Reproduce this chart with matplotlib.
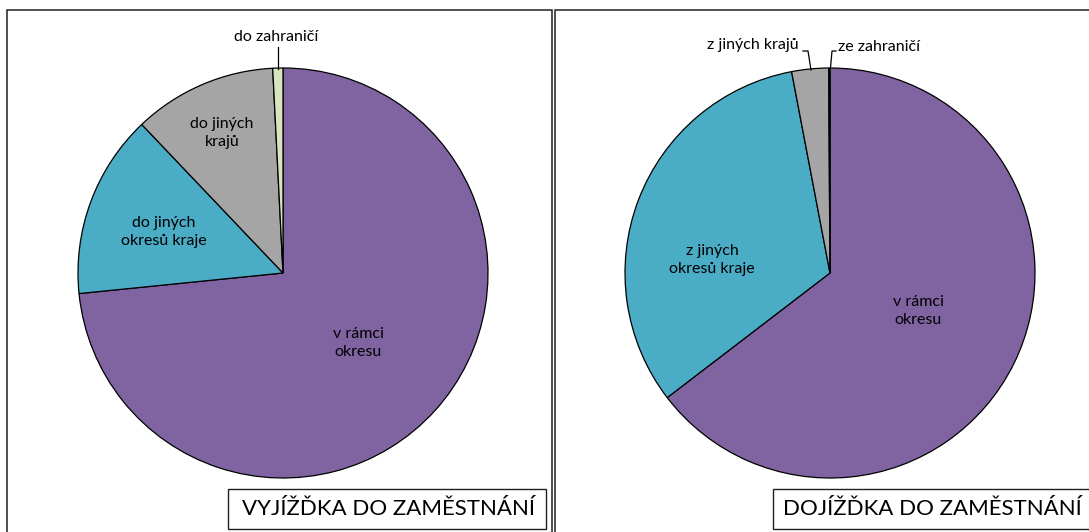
import matplotlib.pyplot as plt
from matplotlib.patches import Rectangle

# data (shares in %)
out_labels = ['v rámci\nokresu', 'do jiných\nokresů kraje', 'do jiných\nkrajů', 'do zahraničí']
out_values = [73.4, 14.5, 11.3, 0.8]
in_labels = ['v rámci\nokresu', 'z jiných\nokresů kraje', 'z jiných krajů', 'ze zahraničí']
in_values = [64.6, 32.4, 2.9, 0.1]
colors = ['#8064A2', '#4BACC6', '#A5A5A5', '#D7E4BD']
in_colors = ['#8064A2', '#4BACC6', '#A5A5A5', '#D7E4BD']

plt.rcParams['font.family'] = ['Lato', 'DejaVu Sans']

W, H = 1089, 532
fig = plt.figure(figsize=(W / 100, H / 100), dpi=100)
fig.patch.set_facecolor('white')


def px(x0, y0, w, h):
    # pixel box (top-left origin) -> figure fraction
    return [x0 / W, 1 - (y0 + h) / H, w / W, h / H]


# panel frames
fig.patches.append(Rectangle((7 / W, -0.02), (552 - 7) / W, 1 - 10 / H + 0.02,
                             transform=fig.transFigure, fill=False, ec='#202020', lw=1.1))
fig.patches.append(Rectangle((555 / W, -0.02), 0.6, 1 - 10 / H + 0.02,
                             transform=fig.transFigure, fill=False, ec='#202020', lw=1.1))

R = 205


def draw_pie(cx, cy, values, cols):
    ax = fig.add_axes(px(cx - R, cy - R, 2 * R, 2 * R))
    ax.pie(values, colors=cols, startangle=90, counterclock=False, radius=1,
           wedgeprops=dict(edgecolor='black', linewidth=0.9))
    ax.set_xlim(-1, 1)
    ax.set_ylim(-1, 1)
    ax.set_aspect('equal')
    ax.axis('off')
    return ax


def pt(cx, cy, x, y):
    return ((x - cx) / R, (cy - y) / R)


fs = 11.5
# left pie: vyjížďka
lx, ly = 283, 273
axl = draw_pie(lx, ly, out_values, colors)
axl.text(*pt(lx, ly, 358, 343), out_labels[0], ha='center', va='center', fontsize=fs, linespacing=1.45)
axl.text(*pt(lx, ly, 164, 232), out_labels[1], ha='center', va='center', fontsize=fs, linespacing=1.45)
axl.text(*pt(lx, ly, 222, 133), out_labels[2], ha='center', va='center', fontsize=fs, linespacing=1.45)
axl.text(*pt(lx, ly, 276, 37), out_labels[3], ha='center', va='center', fontsize=fs, clip_on=False)
axl.plot(*zip(pt(lx, ly, 277.5, 47), pt(lx, ly, 277.5, 69)), color='black', lw=0.9, clip_on=False)

# right pie: dojížďka
rx, ry = 830, 273
axr = draw_pie(rx, ry, in_values, in_colors)
axr.text(*pt(rx, ry, 918, 311), in_labels[0], ha='center', va='center', fontsize=fs, linespacing=1.45)
axr.text(*pt(rx, ry, 712, 260), in_labels[1], ha='center', va='center', fontsize=fs, linespacing=1.45)
axr.text(*pt(rx, ry, 753, 45), in_labels[2], ha='center', va='center', fontsize=fs, clip_on=False)
axr.text(*pt(rx, ry, 838, 47), in_labels[3], ha='left', va='center', fontsize=fs, clip_on=False)
axr.plot(*zip(pt(rx, ry, 803, 51), pt(rx, ry, 808, 51), pt(rx, ry, 811, 70)),
         color='black', lw=0.9, clip_on=False)
axr.plot(*zip(pt(rx, ry, 836, 51), pt(rx, ry, 832, 51), pt(rx, ry, 830.5, 68)),
         color='black', lw=0.9, clip_on=False)

# title boxes
fig.patches.append(Rectangle((228 / W, 1 - 529 / H), (546 - 228) / W, 40 / H,
                             transform=fig.transFigure, fill=True, fc='white', ec='#202020', lw=1.0))
fig.text(389 / W, 1 - 509 / H, 'VYJÍŽĎKA DO ZAMĚSTNÁNÍ', ha='center', va='center', fontsize=16)
fig.patches.append(Rectangle((773 / W, 1 - 529 / H), 0.4, 40 / H,
                             transform=fig.transFigure, fill=True, fc='white', ec='#202020', lw=1.0))
fig.text(932 / W, 1 - 509 / H, 'DOJÍŽĎKA DO ZAMĚSTNÁNÍ', ha='center', va='center', fontsize=16)

fig.savefig('out.png', dpi=100, facecolor='white')
